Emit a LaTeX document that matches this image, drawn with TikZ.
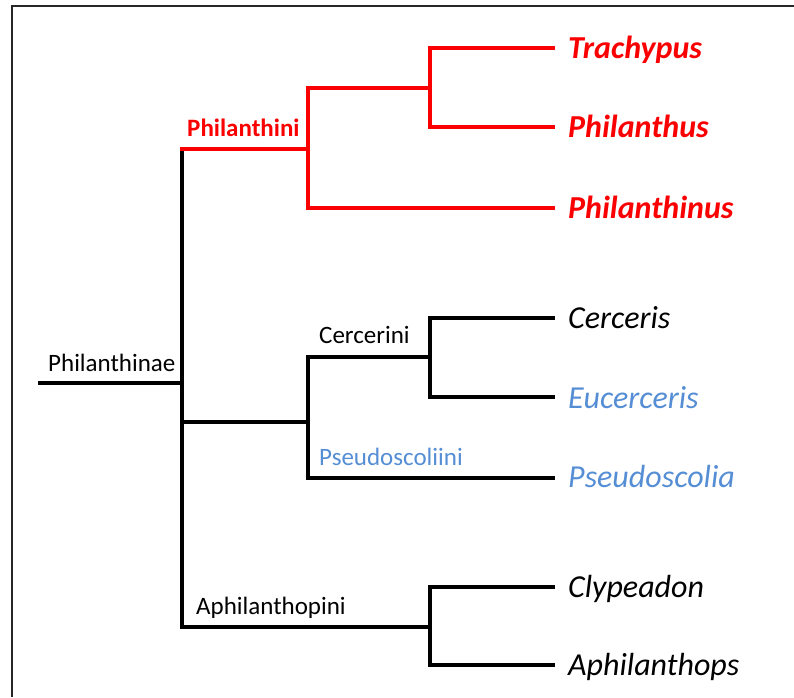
\documentclass[tikz,border=0pt]{standalone}
\usepackage{fontspec}
\setmainfont{Carlito}
\definecolor{tred}{RGB}{250,0,0}
\definecolor{tblue}{RGB}{85,142,213}
\begin{document}
\begin{tikzpicture}[x=1pt,y=-1pt,
  br/.style={line width=3.6pt,line join=miter,line cap=rect},
  redbr/.style={br,draw=tred},
  taxon/.style={anchor=base west,inner sep=0pt,font=\fontsize{32}{32}\selectfont\itshape},
  redtaxon/.style={taxon,text=tred,font=\fontsize{32}{32}\selectfont\bfseries\itshape},
  clade/.style={anchor=base west,inner sep=0pt,font=\fontsize{25}{25}\selectfont}]
\useasboundingbox (0,0) rectangle (794,697);
\fill[white] (0,0) rectangle (794,697);
% frame
\coordinate (fTL) at (12,6);
\coordinate (fTR) at (794,6);
\coordinate (fBL) at (12,697);
\draw[line width=1.6pt,draw=black!85] (fTR) -- (fTL) -- (fBL);
% tips
\coordinate (tTra) at (553,48);
\coordinate (tPhs) at (553,127);
\coordinate (tPhn) at (553,208);
\coordinate (tCer) at (553,318);
\coordinate (tEuc) at (553,397);
\coordinate (tPse) at (553,478);
\coordinate (tCly) at (553,587);
\coordinate (tAph) at (553,665);
% internal
\coordinate (root) at (40,383);
\coordinate (rootJ) at (182,383);
\coordinate (mainTop) at (182,149);
\coordinate (mainBot) at (182,627);
\coordinate (phiJ) at (308,149);
\coordinate (phiSub) at (430,88);
\coordinate (cpJ0) at (182,422);
\coordinate (cpJ) at (308,422);
\coordinate (cerJ) at (430,357);
\coordinate (aphJ) at (430,627);
% leaf labels
\node[redtaxon] (Tra) at (568,58) {Trachypus};
\node[redtaxon] (Phs) at (568,137) {Philanthus};
\node[redtaxon] (Phn) at (568,218) {Philanthinus};
\node[taxon] (Cer) at (568,328) {Cerceris};
\node[taxon,text=tblue] (Euc) at (568,408) {Eucerceris};
\node[taxon,text=tblue] (Pse) at (568,487) {Pseudoscolia};
\node[taxon] (Cly) at (568,597) {Clypeadon};
\node[taxon] (Aph) at (568,675) {Aphilanthops};
% clade labels
\node[clade] (lPhilanthinae) at (48,371) {Philanthinae};
\node[clade,text=tred,font=\fontsize{25}{25}\selectfont\bfseries] (lPhilanthini) at (187,136) {Philanthini};
\node[clade] (lCercerini) at (319,343) {Cercerini};
\node[clade,text=tblue] (lPseudo) at (319,465) {Pseudoscoliini};
\node[clade] (lAphil) at (196,614) {Aphilanthopini};
% branches
\draw[br] (root) -- (rootJ);
\draw[br] (mainTop) -- (mainBot);
\draw[redbr] (mainTop) -- (phiJ);
\draw[redbr] (tTra) -| (430,127) -- (tPhs);
\draw[redbr] (phiSub) -| (308,208) -- (tPhn);
\draw[br] (cpJ0) -- (cpJ);
\draw[br] (cerJ) -| (308,478) -- (tPse);
\draw[br] (tCer) -| (430,397) -- (tEuc);
\draw[br] (mainBot) -- (aphJ);
\draw[br] (tCly) -| (430,665) -- (tAph);
\end{tikzpicture}
\end{document}
